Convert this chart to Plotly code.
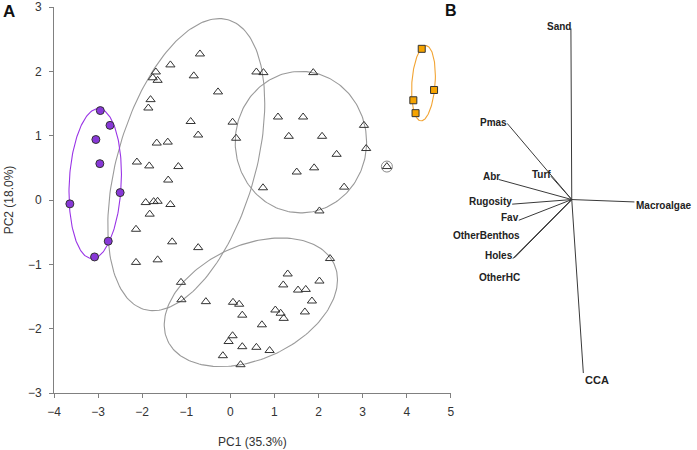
import numpy as np
import plotly.graph_objects as go

# ---------------- Panel A data ----------------
tri_x = [-0.69, -1.36, -1.69, -1.76, -1.65, -0.83, -0.28, -1.81, -1.86, -0.90,
         0.05, -0.73, 0.13, -1.67, -1.42, -2.12, -1.84, -1.18, -1.41, -1.92,
         -1.74, -1.65, -1.36, -1.83, -2.14, -1.32, -0.73, -2.14, -1.65, -1.12,
         -1.11, -0.555, 0.06, 0.20, 0.27, 0.05, -0.04, 0.27, -0.17, 0.23,
         2.26, 1.30, 1.20, 2.02, 1.535, 1.71, 1.85, 1.02, 1.14, 1.21,
         1.69, 0.715, 0.59, 0.89, 2.02, 0.59, 0.75, 1.88, 1.08, 1.65,
         1.325, 2.08, 3.03, 3.08, 2.41, 1.90, 1.505, 3.55, 0.74, 2.58]
tri_y = [2.27, 2.10, 1.99, 1.90, 1.86, 1.93, 1.68, 1.56, 1.43, 1.22,
         1.21, 1.01, 0.96, 0.885, 0.90, 0.59, 0.53, 0.52, 0.31, -0.04,
         -0.025, -0.02, -0.07, -0.22, -0.455, -0.65, -0.74, -0.97, -0.93, -1.28,
         -1.55, -1.58, -1.59, -1.62, -1.79, -2.11, -2.20, -2.28, -2.42, -2.56,
         -0.91, -1.15, -1.32, -1.26, -1.40, -1.39, -1.57, -1.71, -1.76, -1.84,
         -1.74, -1.94, -2.29, -2.34, -0.17, 1.99, 1.98, 1.98, 1.29, 1.29,
         0.99, 0.99, 1.16, 0.80, 0.71, 0.50, 0.435, 0.52, 0.19, 0.20]

circ_x = [-2.95, -2.73, -3.05, -2.96, -2.50, -3.64, -2.77, -3.08]
circ_y = [1.39, 1.16, 0.94, 0.565, 0.115, -0.06, -0.64, -0.885]

sq_x = [4.34, 4.62, 4.15, 4.20]
sq_y = [2.35, 1.71, 1.55, 1.35]

ring_x = [3.55]
ring_y = [0.52]

# ellipses: centre x, centre y, half-extent x, half-extent y, correlation
ell_names = ["grp1", "grp2", "grp3", "purple", "orange"]
ell_cx = [-1.00, 1.60, 0.465, -3.065, 4.38]
ell_cy = [0.55, 0.90, -1.59, 0.255, 1.815]
ell_sx = [1.78, 1.49, 1.965, 0.595, 0.27]
ell_sy = [2.27, 1.10, 1.00, 1.165, 0.585]
ell_rho = [0.42, 0.0, 0.35, 0.12, 0.2]
ell_col = ["#9a9a9a", "#9a9a9a", "#9a9a9a", "#9933e6", "#f2a433"]

# axis ticks
x_ticks = [-4, -3, -2, -1, 0, 1, 2, 3, 4, 5]
y_ticks = [-3, -2, -1, 0, 1, 2, 3]

# ---------------- Panel B data ----------------
var_names = ["Sand", "Pmas", "Turf", "Abr", "Rugosity", "Fav",
             "OtherBenthos", "Holes", "OtherHC", "Macroalgae", "CCA"]
load_x = [-0.005, -0.379, -0.123, -0.428, -0.350, -0.311,
          -0.344, -0.344, -0.336, 0.368, 0.068]
load_y = [1.0, 0.445, 0.137, 0.117, -0.027, -0.121,
          -0.344, -0.344, -0.340, -0.014, -1.014]

FONT = "Arial, Liberation Sans, sans-serif"
fig = go.Figure()

t = np.linspace(0, 2 * np.pi, 200)
for cx, cy, sx, sy, r, col in zip(ell_cx, ell_cy, ell_sx, ell_sy, ell_rho, ell_col):
    ex = cx + sx * np.cos(t)
    ey = cy + sy * (r * np.cos(t) + np.sqrt(1 - r * r) * np.sin(t))
    fig.add_trace(go.Scatter(x=ex, y=ey, mode="lines",
                             line=dict(color=col, width=1.1),
                             hoverinfo="skip", showlegend=False))

fig.add_trace(go.Scatter(x=ring_x, y=ring_y, mode="markers",
                         marker=dict(symbol="circle-open", size=11, color="#8a8a8a",
                                     line=dict(color="#8a8a8a", width=1)),
                         showlegend=False))
fig.add_trace(go.Scatter(x=tri_x, y=tri_y, mode="markers",
                         marker=dict(symbol="triangle-up-open", size=8,
                                     color="#333333", line=dict(width=1)),
                         showlegend=False))
fig.add_trace(go.Scatter(x=circ_x, y=circ_y, mode="markers",
                         marker=dict(symbol="circle", size=8, color="#8838d8",
                                     line=dict(color="#333333", width=1)),
                         showlegend=False))
fig.add_trace(go.Scatter(x=sq_x, y=sq_y, mode="markers",
                         marker=dict(symbol="square", size=7, color="#f5a300",
                                     line=dict(color="#333333", width=1)),
                         showlegend=False))

# biplot vectors
for vx, vy in zip(load_x, load_y):
    fig.add_trace(go.Scatter(x=[0, vx], y=[0, vy], mode="lines",
                             line=dict(color="#3a3a3a", width=1),
                             xaxis="x2", yaxis="y2", hoverinfo="skip",
                             showlegend=False))

lab_style = {
    "Sand": ("right", 2, 2),
    "Pmas": ("right", 2, 1),
    "Turf": ("right", 2, 2),
    "Abr": ("right", 3, 3),
    "Rugosity": ("right", 2, 3),
    "Fav": ("right", 2, 3),
    "OtherBenthos": ("right", 9, 23),
    "Holes": ("right", 2, 3),
    "OtherHC": ("right", 7, -20),
    "Macroalgae": ("left", 0, -4),
    "CCA": ("left", 0, -7),
}
for name, vx, vy in zip(var_names, load_x, load_y):
    anc, xs, ys = lab_style[name]
    fig.add_annotation(x=vx, y=vy, xref="x2", yref="y2", text="<b>%s</b>" % name,
                       showarrow=False, xanchor=anc, yanchor="middle",
                       xshift=xs, yshift=ys,
                       font=dict(family=FONT, size=11 if name == "CCA" else 10,
                                 color="#222222"))

# panel letters
fig.add_annotation(x=-0.071, y=1.0, xref="paper", yref="paper", yanchor="top",
                   xanchor="center", yshift=7, text="<b>A</b>", showarrow=False,
                   font=dict(family=FONT, size=17, color="#111"))
fig.add_annotation(x=0.6207, y=1.0, xref="paper", yref="paper", yanchor="top",
                   xanchor="center", yshift=7, text="<b>B</b>", showarrow=False,
                   font=dict(family=FONT, size=16, color="#111"))

axis_common = dict(showgrid=False, zeroline=False, showline=True,
                   linecolor="#808080", linewidth=1, ticks="outside",
                   ticklen=4, tickcolor="#808080",
                   tickfont=dict(family=FONT, size=12, color="#333333"))

fig.update_layout(
    width=697, height=450,
    margin=dict(l=54, r=0, t=6, b=57),
    paper_bgcolor="white", plot_bgcolor="white",
    xaxis=dict(domain=[0, 0.621], range=[-4, 5], tickvals=x_ticks,
               ticklabelstandoff=4, **axis_common,
               title=dict(text="PC1 (35.3%)", standoff=19,
                          font=dict(family=FONT, size=12, color="#333333"))),
    yaxis=dict(range=[-3, 3], tickvals=y_ticks, ticklabeloverflow="allow",
               ticklabelstandoff=5, **axis_common,
               title=dict(text="PC2 (18.0%)", standoff=11,
                          font=dict(family=FONT, size=12, color="#333333"))),
    xaxis2=dict(domain=[0.6236, 1], range=[-0.7005, 0.712], visible=False,
                anchor="y2"),
    yaxis2=dict(domain=[0, 1], range=[-1.1308, 1.1255], visible=False,
                anchor="x2"),
)

fig.write_html("out.html", config={"displayModeBar": False},
               post_script="document.body.style.margin='0';")
